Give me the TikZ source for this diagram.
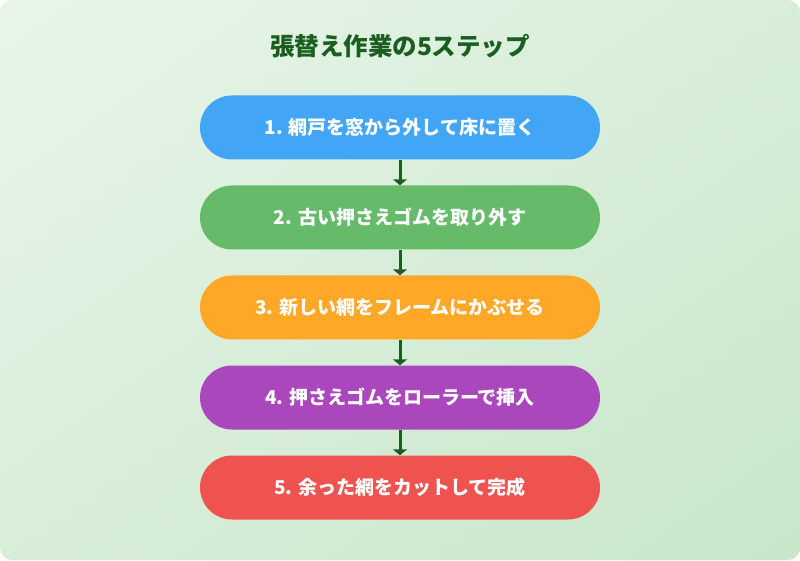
\documentclass[tikz,border=0pt]{standalone}
\usepackage{fontspec}
\setmainfont{Noto Sans CJK JP}
\usepackage{xcolor}
\definecolor{bgtop}{HTML}{E8F5E9}
\definecolor{bgbot}{HTML}{C8E6C9}
\definecolor{titlegreen}{HTML}{1B5E20}
\definecolor{arrowgreen}{HTML}{1B5E20}
\definecolor{stepblue}{HTML}{42A5F5}
\definecolor{stepgreen}{HTML}{66BB6A}
\definecolor{steporange}{HTML}{FFA726}
\definecolor{steppurple}{HTML}{AB47BC}
\definecolor{stepred}{HTML}{EF5350}
\usetikzlibrary{arrows.meta,shadings}
\tikzset{
  stepbox/.style={rounded corners=32pt, minimum width=400pt, minimum height=64pt,
    text=white, font=\fontsize{19}{23}\selectfont\bfseries, inner sep=0pt},
  link/.style={draw=arrowgreen, line width=3pt, -{Triangle[width=14pt,length=6pt]}}
}
\begin{document}
\begin{tikzpicture}[x=1pt,y=1pt]
\useasboundingbox (0,0) rectangle (800,560);
\shade[rounded corners=12pt, upper left=bgtop, lower right=bgbot, upper right=bgtop!50!bgbot, lower left=bgtop!50!bgbot] (0,0) rectangle (800,560);
\node[text=titlegreen, font=\fontsize{24.5}{28}\selectfont\bfseries] (title) at (400,514) {張替え作業の5ステップ};
\node[stepbox, fill=stepblue] (s1) at (400,432.5) {1. 網戸を窓から外して床に置く};
\node[stepbox, fill=stepgreen] (s2) at (400,342.5) {2. 古い押さえゴムを取り外す};
\node[stepbox, fill=steporange] (s3) at (400,252.5) {3. 新しい網をフレームにかぶせる};
\node[stepbox, fill=steppurple] (s4) at (400,162.5) {4. 押さえゴムをローラーで挿入};
\node[stepbox, fill=stepred] (s5) at (400,72.5) {5. 余った網をカットして完成};
\draw[link] (s1) -- (s2);
\draw[link] (s2) -- (s3);
\draw[link] (s3) -- (s4);
\draw[link] (s4) -- (s5);
\end{tikzpicture}
\end{document}
